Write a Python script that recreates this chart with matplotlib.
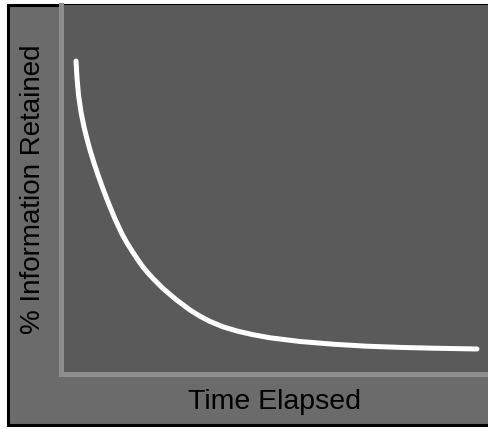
import matplotlib
matplotlib.use('Agg')
import matplotlib.pyplot as plt
from matplotlib.patches import Rectangle

plt.rcParams['font.family'] = ['Liberation Sans', 'DejaVu Sans']

# points (arbitrary units, 0-100)
time_elapsed = [3.51, 3.75, 4.10, 4.68, 5.39, 6.09, 6.79, 7.73, 8.67, 9.84,
                11.01, 12.65, 14.29, 15.46, 16.86, 18.03, 19.20, 20.37, 21.55,
                23.89, 26.93, 30.21, 32.55, 34.89, 37.94, 41.22, 44.96, 48.95,
                55.97, 63.70, 71.66, 79.39, 87.12, 97.42]
retained = [84.82, 80.22, 75.61, 71.00, 66.94, 63.69, 60.70, 57.18, 53.93,
            50.14, 46.61, 42.01, 37.94, 35.50, 32.93, 30.89, 29.00, 27.37,
            25.88, 23.17, 20.19, 17.34, 15.66, 14.25, 12.79, 11.65, 10.65,
            9.81, 8.81, 8.08, 7.53, 7.21, 6.99, 6.78]

fig = plt.figure(figsize=(4.88, 4.29), dpi=100)
fig.patch.set_facecolor('white')

# gray panel with black frame behind the axes
frame = Rectangle((7.5 / 488, 4.5 / 429), 1.02, (424.5 - 4.5) / 429,
                  transform=fig.transFigure, facecolor='#6b6b6b',
                  edgecolor='black', linewidth=2.2, zorder=-1)
fig.patches.append(frame)

ax = fig.add_axes([61 / 488, (429 - 374) / 429, 1 - 61 / 488, (374 - 5) / 429])
ax.set_facecolor('#5a5a5a')
ax.plot(time_elapsed, retained, color='white', lw=3.6,
        solid_capstyle='round', solid_joinstyle='round')

ax.set_xlim(0, 100)
ax.set_ylim(0, 100)
ax.set_xticks([])
ax.set_yticks([])
for s in ['top', 'right']:
    ax.spines[s].set_visible(False)
for s in ['left', 'bottom']:
    ax.spines[s].set_color('#8e8e8e')
    ax.spines[s].set_linewidth(3.6)

ax.set_xlabel('Time Elapsed', fontsize=20.5, color='black', labelpad=11)
ax.set_ylabel('% Information Retained', fontsize=20, color='black', labelpad=11)

fig.savefig('out.png', dpi=100, facecolor=fig.get_facecolor())
